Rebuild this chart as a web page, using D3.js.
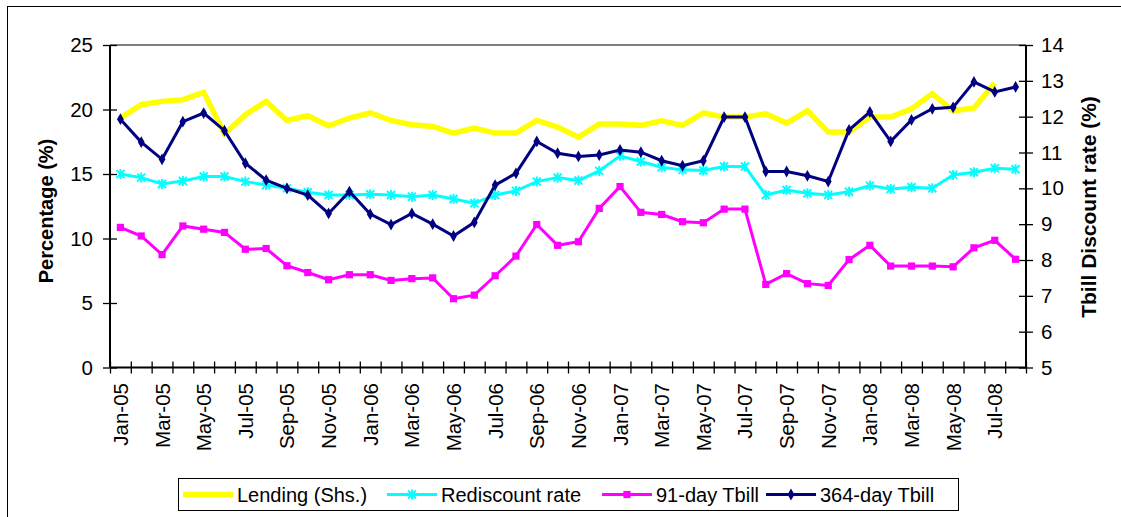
<!DOCTYPE html>
<html>
<head>
<meta charset="utf-8">
<script src="https://cdn.jsdelivr.net/npm/d3@7"></script>
<style>
  body { margin: 0; background: #fff; }
  svg { display: block; font-family: "Liberation Sans", Arial, sans-serif; }
</style>
</head>
<body>
<svg id="chart" width="1121" height="517"></svg>
<script>
// months on the category axis
var months = ["Jan-05","Feb-05","Mar-05","Apr-05","May-05","Jun-05","Jul-05","Aug-05","Sep-05","Oct-05","Nov-05","Dec-05",
  "Jan-06","Feb-06","Mar-06","Apr-06","May-06","Jun-06","Jul-06","Aug-06","Sep-06","Oct-06","Nov-06","Dec-06",
  "Jan-07","Feb-07","Mar-07","Apr-07","May-07","Jun-07","Jul-07","Aug-07","Sep-07","Oct-07","Nov-07","Dec-07",
  "Jan-08","Feb-08","Mar-08","Apr-08","May-08","Jun-08","Jul-08","Aug-08"];

// left axis series (Percentage)
var lending = [19.34,20.37,20.63,20.76,21.33,18.12,19.6,20.63,19.15,19.52,18.74,19.34,
  19.73,19.15,18.82,18.69,18.17,18.56,18.17,18.17,19.15,18.64,17.86,18.87,
  18.87,18.77,19.13,18.77,19.73,19.41,19.41,19.67,18.95,19.9,18.25,18.25,
  19.41,19.41,20.06,21.23,19.9,20.12,22.06,null];
var rediscount = [15.0,14.72,14.23,14.46,14.8,14.8,14.41,14.15,13.9,13.58,13.37,13.37,
  13.43,13.37,13.24,13.37,13.06,12.73,13.37,13.69,14.41,14.72,14.49,15.24,
  16.41,15.97,15.53,15.32,15.27,15.58,15.58,13.37,13.76,13.5,13.37,13.63,
  14.1,13.84,13.97,13.9,14.93,15.14,15.45,15.37];

// right axis series (Tbill discount rate)
var tbill91 = [8.91,8.67,8.15,8.95,8.86,8.77,8.30,8.32,7.84,7.65,7.45,7.59,
  7.59,7.43,7.48,7.50,6.92,7.02,7.56,8.11,8.99,8.41,8.51,9.44,
  10.05,9.33,9.27,9.07,9.04,9.42,9.42,7.32,7.62,7.34,7.29,8.01,
  8.41,7.83,7.83,7.83,7.81,8.34,8.55,8.02];
var tbill364 = [11.93,11.29,10.81,11.86,12.1,11.61,10.70,10.23,10.0,9.81,9.30,9.91,
  9.28,8.99,9.30,9.0,8.67,9.05,10.09,10.42,11.31,10.98,10.89,10.93,
  11.07,11.01,10.77,10.63,10.77,11.99,11.99,10.47,10.47,10.35,10.19,11.63,
  12.13,11.31,11.91,12.22,12.26,12.97,12.69,12.83];

var leftTicks = [0,5,10,15,20,25];
var rightTicks = [5,6,7,8,9,10,11,12,13,14];

var svg = d3.select("#chart");
var plot = {left: 110, right: 1026, top: 45, bottom: 367.5};

// outer frame
svg.append("rect").attr("x", 7.5).attr("y", 6.5).attr("width", 1130).attr("height", 530)
  .attr("fill", "none").attr("stroke", "#000").attr("stroke-width", 1);

var x = d3.scaleBand().domain(months).range([plot.left, plot.right]);
var xEdge = d3.scaleLinear().domain([0, months.length]).range([plot.left, plot.right]);
var yL = d3.scaleLinear().domain([0, 25]).range([plot.bottom, plot.top]);
var yR = d3.scaleLinear().domain([5, 14]).range([plot.bottom, plot.top]);
var cx = function(i){ return x(months[i]) + x.bandwidth() / 2; };

// top border of plot area
svg.append("line").attr("x1", plot.left).attr("x2", plot.right)
  .attr("y1", plot.top).attr("y2", plot.top)
  .attr("stroke", "#808080").attr("stroke-width", 2);

// left axis
var gL = svg.append("g").attr("transform", "translate(" + plot.left + ",0)")
  .call(d3.axisLeft(yL).tickValues(leftTicks).tickSize(7).tickPadding(10));
// right axis
var gR = svg.append("g").attr("transform", "translate(" + plot.right + ",0)")
  .call(d3.axisRight(yR).tickValues(rightTicks).tickSize(7).tickPadding(8));
// bottom axis, ticks between categories
var gB = svg.append("g").attr("transform", "translate(0," + plot.bottom + ")")
  .call(d3.axisBottom(xEdge).tickValues(d3.range(0, months.length + 1)).tickSize(6).tickFormat(""));

[gL, gR, gB].forEach(function(g){
  g.select(".domain").attr("stroke", "#000").attr("stroke-width", 2);
  g.selectAll(".tick line").attr("stroke", "#000").attr("stroke-width", 1.3);
  g.selectAll(".tick text").attr("fill", "#000").style("font-size", "20.5px")
    .style("font-family", "'Liberation Sans', Arial, sans-serif");
});
gL.select(".domain").attr("d", "M0," + plot.bottom + "V" + plot.top);
gR.select(".domain").attr("d", "M0," + plot.bottom + "V" + plot.top);
gB.select(".domain").attr("d", "M" + plot.left + ",0H" + plot.right);
// cross ticks
gL.selectAll(".tick line").attr("x1", 7);
gR.selectAll(".tick line").attr("x1", -7);
gB.selectAll(".tick line").attr("y1", -6);

// month labels, every other month
svg.append("g").selectAll("text")
  .data(months.filter(function(d, i){ return i % 2 === 0; }))
  .enter().append("text")
  .attr("transform", function(d){ return "translate(" + (x(d) + x.bandwidth() / 2 + 7.5) + ",383) rotate(-90)"; })
  .attr("text-anchor", "end")
  .style("font-size", "20.5px")
  .text(function(d){ return d; });

// axis titles
svg.append("text").attr("transform", "translate(53,211) rotate(-90)")
  .attr("text-anchor", "middle").style("font-size", "20px").style("font-weight", "bold")
  .text("Percentage (%)");
svg.append("text").attr("transform", "translate(1096,207) rotate(-90)")
  .attr("text-anchor", "middle").style("font-size", "21px").style("font-weight", "bold")
  .text("Tbill Discount rate (%)");

// marker shapes
function starPath(s){
  return "M" + (-s) + "," + (-s) + "L" + s + "," + s + "M" + (-s) + "," + s + "L" + s + "," + (-s) + "M0," + (-s - 1) + "V" + (s + 1);
}
var squarePath = d3.symbol().type(d3.symbolSquare).size(52)();
var diamondPath = d3.symbol().type(d3.symbolDiamond).size(40)();

var series = [
  {name: "Lending (Shs.)", values: lending, y: yL, color: "#FFFF00", width: 5.5, marker: null},
  {name: "Rediscount rate", values: rediscount, y: yL, color: "#00FFFF", width: 3, marker: "star"},
  {name: "91-day Tbill", values: tbill91, y: yR, color: "#FF00FF", width: 3, marker: "square"},
  {name: "364-day Tbill", values: tbill364, y: yR, color: "#000080", width: 3, marker: "diamond"}
];

function drawMarker(g, s, px, py){
  if (s.marker === "star") {
    g.append("path").attr("d", starPath(4)).attr("transform", "translate(" + px + "," + py + ")")
      .attr("stroke", s.color).attr("stroke-width", 2).attr("fill", "none");
  } else if (s.marker === "square") {
    g.append("path").attr("d", squarePath).attr("transform", "translate(" + px + "," + py + ")")
      .attr("fill", s.color);
  } else if (s.marker === "diamond") {
    g.append("path").attr("d", diamondPath).attr("transform", "translate(" + px + "," + py + ")")
      .attr("fill", s.color);
  }
}

series.forEach(function(s){
  var g = svg.append("g");
  var line = d3.line()
    .defined(function(d){ return d !== null; })
    .x(function(d, i){ return cx(i); })
    .y(function(d){ return s.y(d); });
  g.append("path").datum(s.values).attr("d", line)
    .attr("fill", "none").attr("stroke", s.color).attr("stroke-width", s.width)
    .attr("stroke-linejoin", "miter");
  s.values.forEach(function(v, i){
    if (v !== null) drawMarker(g, s, cx(i), s.y(v));
  });
});

// legend
var legend = svg.append("g");
legend.append("rect").attr("x", 178.5).attr("y", 478.5).attr("width", 780).attr("height", 32)
  .attr("fill", "#fff").attr("stroke", "#000").attr("stroke-width", 1);
var legendX = [183, 387, 602, 766];
series.forEach(function(s, i){
  var lx = legendX[i];
  legend.append("line").attr("x1", lx).attr("x2", lx + 50).attr("y1", 494.5).attr("y2", 494.5)
    .attr("stroke", s.color).attr("stroke-width", s.width);
  drawMarker(legend, s, lx + 25, 494.5);
  legend.append("text").attr("x", lx + 54).attr("y", 501.5).style("font-size", "20px").text(s.name);
});
</script>
</body>
</html>
